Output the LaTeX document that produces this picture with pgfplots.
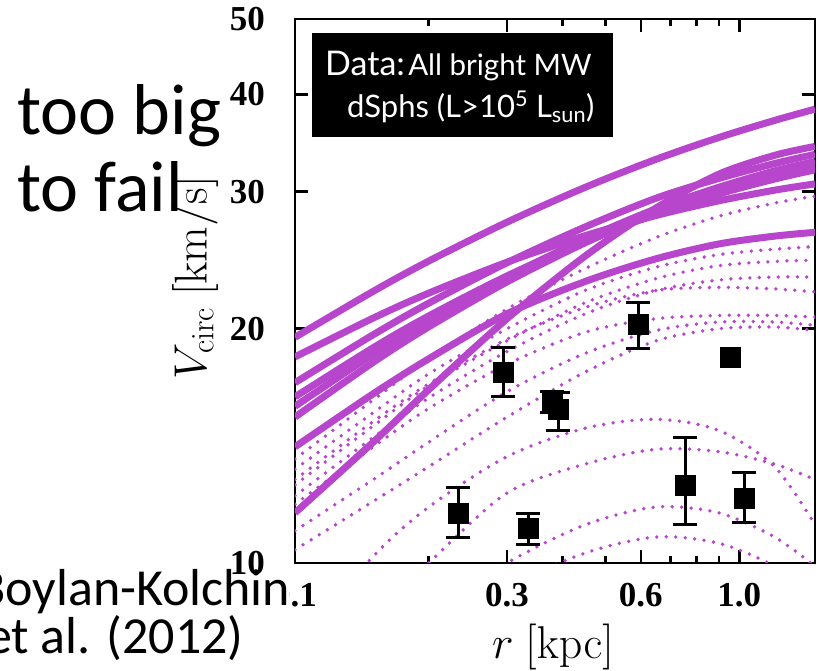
\RequirePackage{fix-cm}
\documentclass[border=0pt]{standalone}
\usepackage[no-math]{fontspec}
\setmainfont{Liberation Serif}
\newfontfamily\pptfont{Carlito}
\newfontfamily\boxfont{Lato}
\usepackage{pgfplots}
\pgfplotsset{compat=1.18}
\definecolor{mag}{RGB}{183,70,205}
\pgfplotsset{
  solidc/.style={mag, line width=7pt, smooth, no marks},
  dotc/.style={mag, line width=3.8pt, line cap=round, dash pattern=on 0pt off 9.5pt, smooth, no marks},
}
\begin{document}
\begin{tikzpicture}
\useasboundingbox (0,0) rectangle (818pt,670pt);
\begin{axis}[
  at={(295pt,107pt)}, anchor=south west,
  scale only axis, width=520pt, height=544pt,
  xmode=log, ymode=log,
  xmin=0.1, xmax=1.48, ymin=10, ymax=50,
  axis line style={line width=2.5pt},
  tick style={line width=2.5pt, black},
  major tick length=13pt, minor tick length=7pt,
  tick align=inside,
  xtick={0.1,0.3,0.6,1.0}, xticklabels={0.1,0.3,0.6,1.0},
  minor xtick={0.2,0.4,0.5,0.7,0.8,0.9},
  ytick={10,20,30,40,50}, yticklabels={10,20,30,40,50},
  yminorticks=false,
  xticklabel style={font=\fontsize{35}{36}\selectfont\bfseries, inner sep=0pt, yshift=-20pt},
  yticklabel style={font=\fontsize{35}{36}\selectfont\bfseries, inner sep=0pt, xshift=-30pt},
]
% dotted curves
\addplot[dotc] coordinates {(0.1,13.6)(0.15,16.2)(0.2,18.3)(0.3,21.2)(0.45,23.9)(0.65,26.2)(0.9,27.9)(1.2,29.0)(1.48,29.6)};
\addplot[dotc] coordinates {(0.1,13.2)(0.15,15.6)(0.2,17.5)(0.3,20.0)(0.45,22.4)(0.65,24.0)(0.9,24.9)(1.2,25.3)(1.48,25.5)};
\addplot[dotc] coordinates {(0.1,12.6)(0.15,15.0)(0.2,16.9)(0.3,19.3)(0.45,21.6)(0.65,23.2)(0.9,24.1)(1.2,24.4)(1.48,24.5)};
\addplot[dotc] coordinates {(0.1,12.2)(0.15,14.5)(0.2,16.3)(0.3,18.7)(0.45,20.9)(0.65,22.4)(0.9,23.1)(1.2,23.3)(1.48,23.3)};
\addplot[dotc] coordinates {(0.1,12.8)(0.15,15.2)(0.2,17.0)(0.3,19.4)(0.45,21.3)(0.65,22.4)(0.9,22.6)(1.2,22.5)(1.48,22.3)};
\addplot[dotc] coordinates {(0.1,11.9)(0.15,14.1)(0.2,15.8)(0.3,18.0)(0.45,19.8)(0.65,20.6)(0.9,20.8)(1.2,20.8)(1.48,20.7)};
\addplot[dotc] coordinates {(0.1,11.0)(0.15,12.8)(0.2,14.3)(0.3,16.6)(0.45,18.6)(0.65,19.9)(0.9,20.4)(1.2,20.4)(1.48,20.2)};
\addplot[dotc] coordinates {(0.1,10.4)(0.15,12.0)(0.2,13.3)(0.3,15.4)(0.45,17.6)(0.65,19.3)(0.9,20.0)(1.2,20.1)(1.48,19.9)};
\addplot[dotc] coordinates {(0.1,7.8)(0.15,10.2)(0.2,11.8)(0.3,13.7)(0.45,14.9)(0.65,15.3)(0.9,14.8)(1.2,13.3)(1.48,11.2)};
\addplot[dotc] coordinates {(0.1,7.0)(0.15,8.5)(0.2,10.0)(0.3,12.3)(0.45,13.4)(0.65,14.0)(0.9,13.9)(1.2,13.4)(1.48,12.8)};
\addplot[dotc] coordinates {(0.1,6.4)(0.15,7.5)(0.2,8.6)(0.3,10.0)(0.45,11.2)(0.65,11.8)(0.9,11.6)(1.2,10.8)(1.48,9.9)};
\addplot[dotc] coordinates {(0.1,6.0)(0.15,7.0)(0.2,8.0)(0.3,9.3)(0.45,10.3)(0.65,10.8)(0.9,10.6)(1.2,9.9)(1.48,9.0)};
% solid curves
\addplot[solidc] coordinates {(0.1,19.5)(0.15,22.34)(0.2,24.43)(0.3,27.41)(0.45,30.39)(0.65,33.02)(0.9,35.22)(1.2,37.04)(1.48,38.3)};
\addplot[solidc] coordinates {(0.1,11.6)(0.15,14.3)(0.2,16.7)(0.3,20.6)(0.45,24.8)(0.65,28.6)(0.9,31.6)(1.2,33.4)(1.48,34.3)};
\addplot[solidc] coordinates {(0.1,18.4)(0.15,20.64)(0.2,22.22)(0.3,24.35)(0.45,26.34)(0.65,27.96)(0.9,29.20)(1.2,30.13)(1.48,30.7)};
\addplot[solidc] coordinates {(0.1,17.05)(0.15,19.65)(0.2,21.57)(0.3,24.31)(0.45,27.03)(0.65,29.43)(0.9,31.2)(1.2,32.6)(1.48,33.5)};
\addplot[solidc] coordinates {(0.1,16.35)(0.15,18.91)(0.2,20.77)(0.3,23.38)(0.45,25.92)(0.65,28.07)(0.9,29.80)(1.2,31.14)(1.48,32.0)};
\addplot[solidc] coordinates {(0.1,15.9)(0.15,18.55)(0.2,20.50)(0.3,23.30)(0.45,26.09)(0.65,28.52)(0.9,30.4)(1.2,31.9)(1.48,32.8)};
\addplot[solidc] coordinates {(0.1,15.4)(0.15,18.11)(0.2,20.11)(0.3,22.97)(0.45,25.79)(0.65,28.22)(0.9,30.0)(1.2,31.3)(1.48,32.3)};
\addplot[solidc] coordinates {(0.1,14.1)(0.15,16.5)(0.2,18.3)(0.3,20.9)(0.45,23.0)(0.65,24.6)(0.9,25.7)(1.2,26.3)(1.48,26.6)};
% data
\addplot[black, only marks, mark=square*, mark size=10pt,
  error bars/.cd, y dir=both, y explicit,
  error bar style={line width=3pt},
  error mark options={rotate=90, mark size=12pt, line width=3pt}]
  coordinates {
  (0.233,11.6) += (0,0.9) -= (0,0.83)
  (0.294,17.6) += (0,1.3) -= (0,1.25)
  (0.335,11.09) += (0,0.5) -= (0,0.54)
  (0.379,16.1) += (0,0.5) -= (0,0.5)
  (0.391,15.74) += (0,0.8) -= (0,0.94)
  (0.592,20.25) += (0,1.35) -= (0,1.4)
  (0.756,12.6) += (0,1.9) -= (0,1.4)
  (1.026,12.12) += (0,0.94) -= (0,0.86)
  };
\addplot[black, only marks, mark=square*, mark size=10pt] coordinates {(0.954,18.36)};
\end{axis}
% labels
\node[rotate=90, font=\fontsize{46}{50}\selectfont, inner sep=0pt] at (195pt,392pt) {$V_{\mathrm{circ}}\ \mathrm{[km/s]}$};
\node[font=\fontsize{46}{50}\selectfont, inner sep=0pt, anchor=base] at (553pt,12pt) {$r\ \mathrm{[kpc]}$};
% data box
\fill[black] (312pt,533pt) rectangle (613pt,637pt);
\node[anchor=base west, inner sep=0pt, text=white, font=\boxfont] at (325pt,594pt) {{\fontsize{34}{35}\selectfont Data:} {\fontsize{29.5}{31}\selectfont All bright MW}};
\node[anchor=base west, inner sep=0pt, text=white, font=\boxfont\fontsize{31}{32}\selectfont] at (347pt,552pt) {dSphs (L>10\textsuperscript{5} L\textsubscript{sun})};
% overlay text
\node[anchor=base west, align=left, inner sep=0pt, font=\pptfont\fontsize{72}{77}\selectfont] at (17pt,458pt) {too big\\to fail};
\fill[white] (268pt,62pt) rectangle (289pt,88pt);
\node[anchor=base west, inner sep=0pt, font=\pptfont\fontsize{52}{56}\selectfont] at (-23pt,65pt) {Boylan-Kolchin};
\node[anchor=base west, inner sep=0pt, font=\pptfont\fontsize{52}{56}\selectfont] at (-14pt,17pt) {et al. (2012)};
\end{tikzpicture}
\end{document}
